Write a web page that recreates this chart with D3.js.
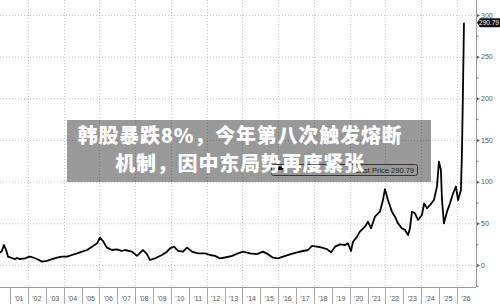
<!DOCTYPE html>
<html>
<head>
<meta charset="utf-8">
<script src="https://cdn.jsdelivr.net/npm/d3@7"></script>
<style>
  html, body { margin: 0; padding: 0; background: #fff; }
  svg { display: block; }
</style>
</head>
<body>
<svg id="chart" width="500" height="304"></svg>
<script>
// price history (decimal year, price)
var dates = [
  2000.44, 2000.55, 2000.66, 2000.78, 2000.89, 2001.11, 2001.28, 2001.39, 2001.56, 2001.84,
  2002.01, 2002.12, 2002.29, 2002.51, 2002.79, 2003.07, 2003.35, 2003.63, 2003.91, 2004.19,
  2004.47, 2004.75, 2005.03, 2005.31, 2005.59, 2005.87, 2006.03, 2006.20, 2006.42, 2006.70,
  2006.98, 2007.26, 2007.43, 2007.82, 2008.10, 2008.44, 2008.66, 2008.83, 2009.11, 2009.50,
  2009.78, 2009.95, 2010.17, 2010.40, 2010.68, 2010.90, 2011.18, 2011.51, 2011.91, 2012.19,
  2012.47, 2012.74, 2013.02, 2013.42, 2013.75, 2014.03, 2014.42, 2014.81, 2015.15, 2015.43,
  2015.71, 2015.99, 2016.27, 2016.66, 2017.05, 2017.39, 2017.67, 2017.89, 2018.17, 2018.45,
  2018.73, 2018.96, 2019.18, 2019.46, 2019.74, 2019.90, 2020.07, 2020.18, 2020.41, 2020.57,
  2020.85, 2021.02, 2021.19, 2021.41, 2021.69, 2021.86, 2021.97, 2022.14, 2022.36, 2022.53,
  2022.70, 2022.92, 2023.09, 2023.26, 2023.37, 2023.48, 2023.65, 2023.82, 2024.04, 2024.16,
  2024.32, 2024.49, 2024.71, 2024.88, 2024.99, 2025.10, 2025.16, 2025.27, 2025.44, 2025.61,
  2025.78, 2025.94, 2026.06, 2026.22, 2026.28, 2026.33, 2026.39
];
var prices = [
  14.5, 17, 24, 18, 10, 8.4, 7, 8.4, 7, 8,
  9.5, 10, 9, 7.2, 4, 5, 7, 8.8, 10, 10,
  12, 14, 16, 18, 22, 26, 32.8, 28.8, 20.8, 18,
  18.8, 16.8, 18, 16, 11, 18, 13, 6, 8, 12,
  16, 20, 22, 17, 16, 20.8, 16, 14, 14, 12,
  11, 8, 9, 11, 14, 16, 14, 13, 16, 13,
  8.8, 8, 10, 12.8, 15.2, 16.8, 18, 23, 22, 20.8,
  19, 15.2, 22, 24.8, 24, 26, 16.8, 27.6, 34, 40,
  46, 52, 44, 58, 64, 78, 91, 78, 64, 58,
  50, 44, 42, 36, 44, 64, 62, 54, 60, 74,
  68, 72, 78, 94, 124, 114, 78, 50, 64, 74,
  86, 94, 78, 90, 138, 205, 290.79
];

var yearLabels = ["'01","'02","'03","'04","'05","'06","'07","'08","'09","'10","'11","'12","'13",
                  "'14","'15","'16","'17","'18","'19","'20","'21","'22","'23","'24","'25","'26"];
var firstYear = 2001;
var yTicks = [0, 50, 100, 150, 200, 250, 300];
var yMinorTicks = [-25, 25, 75, 125, 175, 225, 275];
var lastPrice = 290.79;
var legendLabel = "Last Price 290.79";
var titleLines = ["韩股暴跌8%，今年第八次触发熔断", "机制，因中东局势再度紧张"];

var svg = d3.select("#chart"),
    axisX = 476,
    axisY = 287;

var x = d3.scaleLinear().domain([2001, 2026]).range([10, 457]);
var y = d3.scaleLinear().domain([0, 300]).range([265, 15]);

var years = d3.range(firstYear, firstYear + yearLabels.length);

// grid
var grid = svg.append("g")
    .attr("stroke", "#b8b8b8")
    .attr("stroke-width", 0.8)
    .attr("stroke-dasharray", "1,2");

grid.selectAll("line.h").data(yTicks).enter().append("line")
    .attr("x1", 0).attr("x2", axisX)
    .attr("y1", function(d) { return y(d) + 0.5; })
    .attr("y2", function(d) { return y(d) + 0.5; });

grid.selectAll("line.v").data(years.filter(function(d) { return d % 2 === 0; })).enter().append("line")
    .attr("x1", function(d) { return Math.round(x(d)) + 0.5; })
    .attr("x2", function(d) { return Math.round(x(d)) + 0.5; })
    .attr("y1", 0).attr("y2", axisY);

// legend box (sits under the banner)
var legend = svg.append("g");
legend.append("rect")
    .attr("x", 271.5).attr("y", 164.5).attr("width", 146).attr("height", 11)
    .attr("rx", 2)
    .attr("fill", "#fff").attr("stroke", "#555");
legend.append("rect")
    .attr("x", 276).attr("y", 166.5).attr("width", 7).attr("height", 3.5)
    .attr("fill", "#000");
legend.append("text")
    .attr("x", 414).attr("y", 172.5)
    .attr("text-anchor", "end")
    .attr("font-family", "Liberation Sans, Arial, sans-serif")
    .attr("font-size", 7.5)
    .attr("fill", "#333")
    .text(legendLabel);

// price line
var line = d3.line()
    .x(function(d, i) { return x(dates[i]); })
    .y(function(d) { return y(d); });

svg.append("path")
    .datum(prices)
    .attr("d", line)
    .attr("fill", "none")
    .attr("stroke", "#000")
    .attr("stroke-width", 1.8)
    .attr("stroke-linejoin", "round");

// right axis
var right = svg.append("g");
right.append("line")
    .attr("x1", axisX + 0.5).attr("x2", axisX + 0.5)
    .attr("y1", 0).attr("y2", axisY)
    .attr("stroke", "#999");

right.selectAll("path.tick").data(yTicks).enter().append("path")
    .attr("d", function(d) {
        var yy = y(d) + 0.5;
        return "M" + (axisX + 1) + "," + (yy - 1.5) + "L" + (axisX + 4) + "," + yy + "L" + (axisX + 1) + "," + (yy + 1.5) + "Z";
    })
    .attr("fill", "#555");

right.selectAll("line.minor").data(yMinorTicks).enter().append("line")
    .attr("x1", axisX).attr("x2", axisX + 2.5)
    .attr("y1", function(d) { return y(d) + 0.5; })
    .attr("y2", function(d) { return y(d) + 0.5; })
    .attr("stroke", "#777");

right.selectAll("text").data(yTicks).enter().append("text")
    .attr("x", axisX + 5)
    .attr("y", function(d) { return y(d) + 2.6; })
    .attr("font-family", "Liberation Sans, Arial, sans-serif")
    .attr("font-size", 7)
    .attr("fill", "#555")
    .text(function(d) { return d; });

// last price marker
var ly = y(lastPrice);
svg.append("path")
    .attr("d", "M" + (axisX + 1) + "," + ly + "L" + (axisX + 4) + "," + (ly - 4.5) + "L500," + (ly - 4.5) +
               "L500," + (ly + 4.5) + "L" + (axisX + 4) + "," + (ly + 4.5) + "Z")
    .attr("fill", "#111");
svg.append("text")
    .attr("x", 489).attr("y", ly + 2.5)
    .attr("text-anchor", "middle")
    .attr("font-family", "Liberation Sans, Arial, sans-serif")
    .attr("font-size", 6.5)
    .attr("fill", "#fff")
    .text(lastPrice.toFixed(2));

// bottom axis
var bottom = svg.append("g");
bottom.append("line")
    .attr("x1", 0).attr("x2", axisX)
    .attr("y1", axisY + 0.5).attr("y2", axisY + 0.5)
    .attr("stroke", "#999");

bottom.selectAll("line.tick").data(years).enter().append("line")
    .attr("x1", function(d) { return Math.round(x(d)) + 0.5; })
    .attr("x2", function(d) { return Math.round(x(d)) + 0.5; })
    .attr("y1", axisY).attr("y2", 304)
    .attr("stroke", "#aaa");

bottom.selectAll("text").data(yearLabels).enter().append("text")
    .attr("x", function(d, i) { return x(years[i] + 0.5); })
    .attr("y", 301)
    .attr("text-anchor", "middle")
    .attr("font-family", "Liberation Sans, Arial, sans-serif")
    .attr("font-size", 7)
    .attr("fill", "#555")
    .text(function(d) { return d; });

// headline banner
svg.append("rect")
    .attr("x", 67).attr("y", 120).attr("width", 364).attr("height", 62)
    .attr("fill", "#000").attr("fill-opacity", 0.4);

svg.selectAll("text.title").data(titleLines).enter().append("text")
    .attr("class", "title")
    .attr("x", 240)
    .attr("y", function(d, i) { return 143 + i * 28; })
    .attr("text-anchor", "middle")
    .attr("font-family", "Noto Sans CJK SC, sans-serif")
    .attr("font-weight", 900)
    .attr("font-size", 20)
    .attr("letter-spacing", 0.8)
    .attr("fill", "#fff")
    .text(function(d) { return d; });
</script>
</body>
</html>
